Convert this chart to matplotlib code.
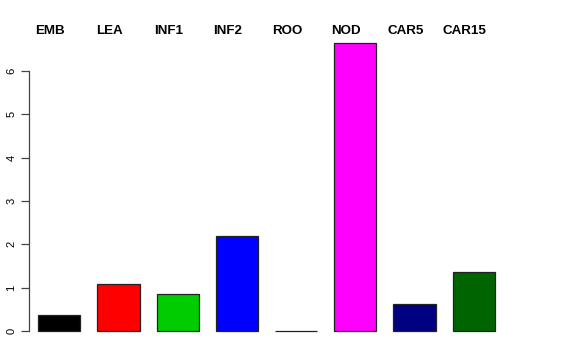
import numpy as np
import matplotlib
matplotlib.use("Agg")
from matplotlib import pyplot as plt
from matplotlib.transforms import ScaledTranslation, blended_transform_factory

plt.rcParams["font.family"] = ["Liberation Sans", "DejaVu Sans"]

tissues = ["EMB", "LEA", "INF1", "INF2", "ROO", "NOD", "CAR5", "CAR15"]
values = [0.37, 1.09, 0.86, 2.20, 0.01, 6.64, 0.63, 1.36]
colors = ["black", "#ff0000", "#00cd00", "#0000ff", "#00ffff",
          "#ff00ff", "#000080", "#006400"]

W, H = 576, 360
fig = plt.figure(figsize=(W / 100, H / 100), dpi=100)

# axes placed in pixel space to mimic R's plot region
left_px, right_px, bottom_px, top_px = 29, 560, 331, 40
ax = fig.add_axes([left_px / W, (H - bottom_px) / H,
                   (right_px - left_px) / W, (bottom_px - top_px) / H])

x = np.arange(len(values))
ax.bar(x, values, width=0.71, color=colors, edgecolor="#222222",
       linewidth=0.9, clip_on=False)

step = 59.2
ax.set_xlim((left_px - 59.3) / step, (right_px - 59.3) / step)
ax.set_ylim(0, (bottom_px - top_px) / 43.33)

for side in ["top", "right", "bottom"]:
    ax.spines[side].set_visible(False)
ax.spines["left"].set_bounds(0, 6)
ax.spines["left"].set_color("#444444")
ax.spines["left"].set_linewidth(0.9)
ax.set_xticks([])
ax.set_yticks(range(7))
ax.tick_params(axis="y", length=6, width=0.9, color="#444444",
               labelsize=8, pad=3)
for lab in ax.get_yticklabels():
    lab.set_rotation(90)
    lab.set_va("center")

# labels across the top, a little left of each bar
trans = blended_transform_factory(ax.transData, fig.transFigure)
trans = trans + ScaledTranslation(-9 / 100, 0, fig.dpi_scale_trans)
for i, name in enumerate(tissues):
    ax.text(x[i], (H - 31) / H, name, transform=trans, ha="center",
            va="center", fontsize=9.6, fontweight="bold", clip_on=False)

fig.savefig("out.png", dpi=100)
